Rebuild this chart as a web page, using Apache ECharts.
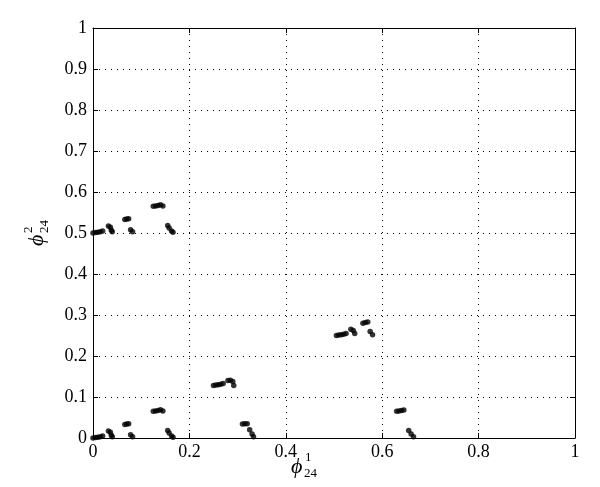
<!DOCTYPE html>
<html>
<head>
<meta charset="utf-8">
<script src="https://cdn.jsdelivr.net/npm/echarts@6/dist/echarts.min.js"></script>
<style>html,body{margin:0;padding:0;background:#fff}#c{width:600px;height:487px}</style>
</head>
<body>
<div id="c"></div>
<script>
// Data
const xTicks = [0, 0.2, 0.4, 0.6, 0.8, 1];
const yTicks = [0, 0.1, 0.2, 0.3, 0.4, 0.5, 0.6, 0.7, 0.8, 0.9, 1];
const phiX = [
  0.000, 0.005, 0.010, 0.015, 0.020, 0.032, 0.036, 0.038, 0.040, 0.066, 0.070, 0.074, 0.078, 0.082,
  0.125, 0.130, 0.135, 0.140, 0.145, 0.155, 0.158, 0.163, 0.166,
  0.000, 0.005, 0.010, 0.015, 0.020, 0.032, 0.036, 0.038, 0.040, 0.066, 0.070, 0.074, 0.078, 0.082,
  0.125, 0.130, 0.135, 0.140, 0.145, 0.155, 0.158, 0.163, 0.166,
  0.250, 0.255, 0.260, 0.265, 0.270, 0.280, 0.285, 0.290, 0.292, 0.310, 0.315, 0.320, 0.325, 0.330, 0.333,
  0.505, 0.510, 0.515, 0.520, 0.525, 0.535, 0.540, 0.543, 0.560, 0.565, 0.570, 0.575, 0.580,
  0.630, 0.635, 0.640, 0.645, 0.655, 0.660, 0.665
];
const phiY = [
  0.500, 0.501, 0.502, 0.503, 0.505, 0.517, 0.514, 0.507, 0.503, 0.533, 0.534, 0.535, 0.508, 0.503,
  0.565, 0.566, 0.567, 0.569, 0.566, 0.518, 0.512, 0.505, 0.502,
  0.000, 0.001, 0.002, 0.003, 0.005, 0.017, 0.014, 0.007, 0.003, 0.033, 0.034, 0.035, 0.008, 0.003,
  0.065, 0.066, 0.067, 0.069, 0.066, 0.018, 0.012, 0.005, 0.002,
  0.128, 0.129, 0.130, 0.131, 0.133, 0.140, 0.141, 0.138, 0.128, 0.034, 0.035, 0.035, 0.020, 0.010, 0.003,
  0.250, 0.251, 0.252, 0.253, 0.255, 0.265, 0.262, 0.255, 0.280, 0.282, 0.283, 0.260, 0.252,
  0.065, 0.066, 0.067, 0.068, 0.018, 0.010, 0.003
];

const chart = echarts.init(document.getElementById('c'), null, {renderer: 'canvas'});
const font = '"Liberation Serif", "Times New Roman", serif';
const pts = phiX.map((x, i) => [x, phiY[i]]);
const L = 93, R = 575, T = 28, B = 438;

function fmt(v){ return String(Math.round(v*10)/10); }

const axisCommon = {
  min: 0, max: 1,
  axisLine: {show: true, onZero: false, lineStyle: {color: '#000', width: 1}},
  axisTick: {show: true, inside: true, length: 5, lineStyle: {color: '#000'}},
  splitLine: {show: false}
};

chart.setOption({
  animation: false,
  backgroundColor: '#fff',
  grid: {left: L, right: 600 - R, top: T, bottom: 487 - B, containLabel: false},
  xAxis: [
    Object.assign({}, axisCommon, {
      type: 'value', interval: 0.2, position: 'bottom',
      axisLabel: {color: '#000', fontFamily: font, fontSize: 18, margin: 5, formatter: fmt},
      splitLine: {show: true, lineStyle: {color: '#000', type: [1, 5], width: 1}}
    }),
    Object.assign({}, axisCommon, {
      type: 'value', interval: 0.2, position: 'top',
      axisLabel: {show: false}
    })
  ],
  yAxis: [
    Object.assign({}, axisCommon, {
      type: 'value', interval: 0.1, position: 'left',
      axisLabel: {color: '#000', fontFamily: font, fontSize: 18, margin: 6, formatter: fmt},
      splitLine: {show: true, lineStyle: {color: '#000', type: [1, 5], width: 1}}
    }),
    Object.assign({}, axisCommon, {
      type: 'value', interval: 0.1, position: 'right',
      axisLabel: {show: false}
    })
  ],
  series: [{
    type: 'scatter',
    data: pts,
    symbol: 'circle',
    symbolSize: 5.5,
    itemStyle: {color: '#000'},
    xAxisIndex: 0, yAxisIndex: 0
  }],
  graphic: [
    {type: 'text', left: 291, top: 456, style: {text: 'ϕ', font: 'italic 22px ' + font, fill: '#000'}},
    {type: 'text', left: 305, top: 451, style: {text: '1', font: '13px ' + font, fill: '#000'}},
    {type: 'text', left: 304, top: 467, style: {text: '24', font: '13px ' + font, fill: '#000'}},
    {type: 'group', x: 26, y: 246, rotation: Math.PI/2, children: [
      {type: 'text', x: 0, y: 0, style: {text: 'ϕ', font: 'italic 22px ' + font, fill: '#000', textVerticalAlign: 'top'}},
      {type: 'text', x: 13, y: -4, style: {text: '2', font: '13px ' + font, fill: '#000', textVerticalAlign: 'top'}},
      {type: 'text', x: 13, y: 12, style: {text: '24', font: '13px ' + font, fill: '#000', textVerticalAlign: 'top'}}
    ]}
  ]
});
</script>
</body>
</html>
